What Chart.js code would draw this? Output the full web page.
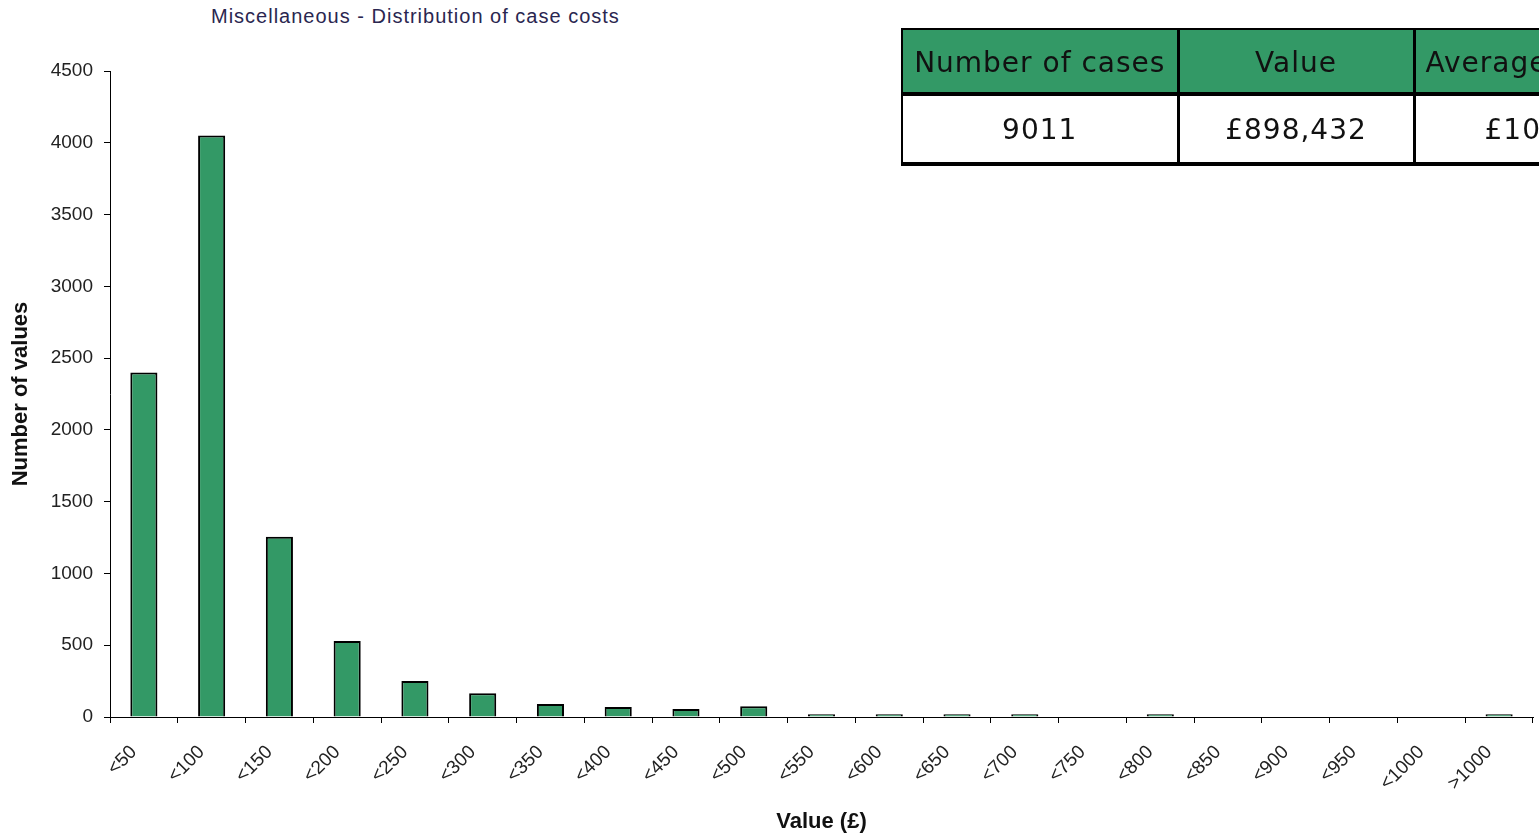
<!DOCTYPE html>
<html>
<head>
    <title>Miscellaneous - Distribution of case costs</title>
    <script src="https://cdn.jsdelivr.net/npm/chart.js"></script>
    <style>
        body {
            margin: 0;
            width: 1539px;
            height: 837px;
            overflow: hidden;
            background: #ffffff;
            font-family: "Liberation Sans", Arial, sans-serif;
            position: relative;
        }

        .chart-title {
            position: absolute;
            left: 211px;
            top: 5px;
            font-size: 20px;
            letter-spacing: 1px;
            color: #2a2650;
            white-space: nowrap;
        }

        .chart-container {
            position: absolute;
            left: 0;
            top: 0;
            width: 1539px;
            height: 837px;
        }

        .summary {
            position: absolute;
            left: 901px;
            top: 28px;
            width: 900px;
            table-layout: fixed;
            border-collapse: collapse;
            font-family: "DejaVu Sans", sans-serif;
            font-size: 28px;
            letter-spacing: 1px;
            color: #111;
        }

        .summary th, .summary td {
            text-align: center;
            padding: 0;
            white-space: nowrap;
            overflow: hidden;
            font-weight: normal;
            border-left: 3px solid #000;
        }

        .summary th {
            background-color: #339966; /* excel green */
            height: 60px;
            padding-top: 2px;
            border-top: 2px solid #000;
            border-bottom: 4px solid #000;
        }

        .summary td {
            height: 65px;
            padding-top: 1px;
            border-bottom: 4px solid #000;
        }

        .summary th:first-child, .summary td:first-child {
            border-left: 2px solid #000;
        }

        .summary .avg-head { text-align: left; padding-left: 10px; }
        .summary .avg-cell { text-align: left; padding-left: 69px; }
    </style>
</head>
<body>
    <div class="chart-title">Miscellaneous - Distribution of case costs</div>

    <div class="chart-container">
        <canvas id="cost-chart" width="1539" height="837"></canvas>
    </div>

    <table class="summary">
        <colgroup>
            <col style="width:276px">
            <col style="width:236px">
            <col style="width:388px">
        </colgroup>
        <tr>
            <th>Number of cases</th>
            <th>Value</th>
            <th class="avg-head">Average</th>
        </tr>
        <tr>
            <td>9011</td>
            <td>£898,432</td>
            <td class="avg-cell">£100</td>
        </tr>
    </table>

    <script>
        // cost bands and how many cases fell in each
        const bands = ['<50', '<100', '<150', '<200', '<250', '<300', '<350', '<400', '<450', '<500',
                       '<550', '<600', '<650', '<700', '<750', '<800', '<850', '<900', '<950', '<1000', '>1000'];
        const caseCounts = [2400, 4050, 1255, 530, 250, 165, 90, 70, 55, 75,
                            20, 20, 20, 20, 0, 20, 0, 0, 0, 0, 20];
        const yTicks = [0, 500, 1000, 1500, 2000, 2500, 3000, 3500, 4000, 4500];

        const ctx = document.getElementById('cost-chart').getContext('2d');
        const costChart = new Chart(ctx, {
            type: 'bar',
            data: {
                labels: bands,
                datasets: [{
                    label: 'Number of values',
                    data: caseCounts,
                    backgroundColor: '#339966',
                    borderColor: '#000000',
                    borderWidth: 2,
                    barPercentage: 0.4,
                    categoryPercentage: 1.0
                }]
            },
            options: {
                responsive: false,
                animation: false,
                layout: {
                    padding: { top: 71, right: 6, left: 0, bottom: 0 }
                },
                plugins: {
                    legend: { display: false },
                    tooltip: { enabled: false }
                },
                scales: {
                    x: {
                        afterFit: scale => { scale.height = 120; },
                        grid: {
                            offset: true,
                            drawOnChartArea: false,
                            drawTicks: true,
                            tickLength: 6,
                            color: '#000000'
                        },
                        border: { display: true, color: '#000000', width: 1 },
                        ticks: {
                            minRotation: 45,
                            maxRotation: 45,
                            autoSkip: false,
                            padding: 18,
                            labelOffset: -10,
                            color: '#222222',
                            font: { family: '"Liberation Sans", Arial', size: 19 }
                        },
                        title: {
                            display: true,
                            text: 'Value (£)',
                            color: '#111111',
                            font: { family: '"Liberation Sans", Arial', size: 22, weight: 'bold' },
                            padding: { top: 0, bottom: 2 }
                        }
                    },
                    y: {
                        min: 0,
                        max: 4500,
                        afterFit: scale => { scale.width = 110; },
                        afterBuildTicks: scale => {
                            scale.ticks = yTicks.map(v => ({ value: v }));
                        },
                        grid: {
                            drawOnChartArea: false,
                            drawTicks: true,
                            tickLength: 6,
                            color: '#000000'
                        },
                        border: { display: true, color: '#000000', width: 1 },
                        ticks: {
                            padding: 11,
                            color: '#222222',
                            font: { family: '"Liberation Sans", Arial', size: 19 },
                            callback: value => String(value)
                        },
                        title: {
                            display: true,
                            text: 'Number of values',
                            color: '#111111',
                            font: { family: '"Liberation Sans", Arial', size: 22, weight: 'bold' },
                            padding: { top: 8, bottom: 0 }
                        }
                    }
                }
            }
        });
    </script>
</body>
</html>
